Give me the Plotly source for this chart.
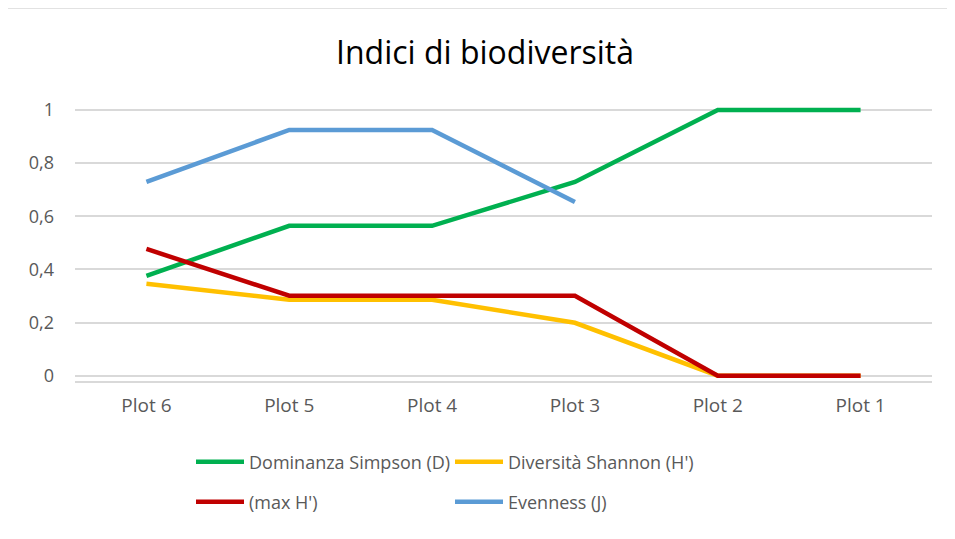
import plotly.graph_objects as go

# categories and series
plots = ["Plot 6", "Plot 5", "Plot 4", "Plot 3", "Plot 2", "Plot 1"]
simpson = [0.376, 0.564, 0.564, 0.729, 1.0, 1.0]
shannon = [0.346, 0.286, 0.286, 0.199, 0.0, 0.0]
max_h = [0.477, 0.301, 0.301, 0.301, 0.0, 0.0]
evenness = [0.729, 0.925, 0.925, 0.654, None, None]

W, H = 955, 539
OFF = 8  # page body margin shifts the figure
L, R, T, B = 75 - OFF, 23 + OFF, 102 - OFF, 158 + OFF

def px_x(p):
    # screen pixel -> paper x
    return (p - OFF - L) / (W - L - R)

def px_y(p):
    # screen pixel -> paper y
    return (H - B - (p - OFF)) / (H - T - B)

fig = go.Figure()
series = [
    ("Dominanza Simpson (D)", simpson, "#00B050", "legend"),
    ("Diversità Shannon (H')", shannon, "#FFC000", "legend"),
    ("(max H')", max_h, "#C00000", "legend2"),
    ("Evenness (J)", evenness, "#5B9BD5", "legend2"),
]
for name, vals, col, leg in series:
    fig.add_trace(go.Scatter(
        x=plots, y=vals, name=name, mode="lines",
        line=dict(color=col, width=4.5),
        legend=leg,
    ))

leg_common = dict(
    orientation="h", xanchor="left", yanchor="middle",
    font=dict(family="Open Sans", size=18, color="#595959"),
    entrywidth=196, itemwidth=48, bgcolor="rgba(0,0,0,0)",
)

fig.update_layout(
    width=W, height=H,
    margin=dict(l=L, r=R, t=T, b=B, autoexpand=False),
    paper_bgcolor="white", plot_bgcolor="white",
    separators=",.",
    title=dict(
        text="Indici di biodiversità",
        x=(485 - OFF) / W, xanchor="center", y=1 - (53 - OFF) / H, yanchor="middle",
        font=dict(family="Open Sans", size=32, color="#000000"),
    ),
    legend=dict(x=px_x(191), y=px_y(462), **leg_common),
    legend2=dict(x=px_x(191), y=px_y(502), **leg_common),
    xaxis=dict(
        range=[-0.5, 5.5],
        showgrid=False, showline=True, linecolor="#D9D9D9", linewidth=1.5,
        ticks="", tickfont=dict(family="Open Sans", size=19, color="#595959"),
        ticklabelstandoff=6,
    ),
    yaxis=dict(
        range=[-0.02, 1.03], tick0=0, dtick=0.2,
        showgrid=True, gridcolor="#D9D9D9", gridwidth=1.5,
        zeroline=True, zerolinecolor="#D9D9D9", zerolinewidth=1.5,
        ticks="", tickfont=dict(family="Open Sans", size=18, color="#595959"),
        ticklabelstandoff=20,
    ),
    shapes=[dict(
        type="rect", xref="paper", yref="paper",
        x0=px_x(4), x1=px_x(1000), y0=px_y(600), y1=px_y(8),
        line=dict(color="#D9D9D9", width=1.5), layer="below",
    )],
)

fig.write_html("out.html")
